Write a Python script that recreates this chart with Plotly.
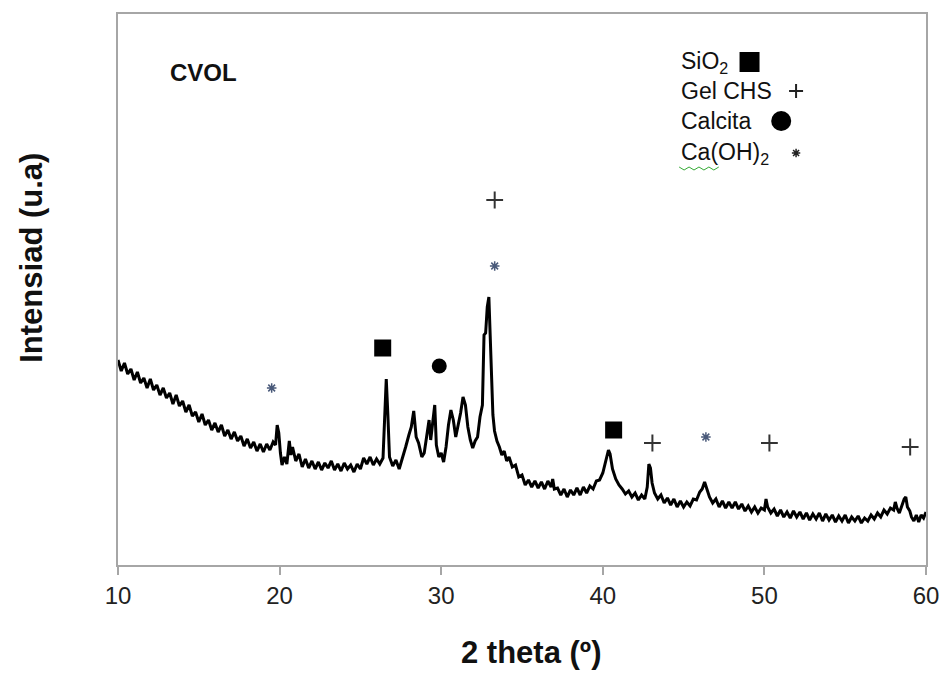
import plotly.graph_objects as go

# ---- data (2theta in degrees, intensity in arbitrary units) ----
two_theta = [
    10.0, 10.2, 10.4, 10.6, 10.8, 11.0, 11.2, 11.4, 11.6, 11.8,
    12.0, 12.2, 12.4, 12.6, 12.8, 13.0, 13.2, 13.4, 13.6, 13.8,
    14.0, 14.2, 14.4, 14.6, 14.8, 15.0, 15.2, 15.4, 15.6, 15.8,
    16.0, 16.2, 16.4, 16.6, 16.8, 17.0, 17.2, 17.4, 17.6, 17.8,
    18.0, 18.2, 18.4, 18.6, 18.8, 19.0, 19.2, 19.4, 19.6, 19.75,
    19.85, 19.95, 20.05, 20.15, 20.3, 20.45, 20.6, 20.7, 20.8, 21.0,
    21.2, 21.4, 21.6, 21.8, 22.0, 22.2, 22.4, 22.6, 22.8, 23.0,
    23.2, 23.4, 23.6, 23.8, 24.0, 24.2, 24.4, 24.6, 24.8, 25.0,
    25.2, 25.4, 25.6, 25.8, 26.0, 26.2, 26.4, 26.5, 26.6, 26.7,
    26.8, 27.0, 27.2, 27.4, 27.6, 27.8, 28.0, 28.15, 28.3, 28.45,
    28.6, 28.8, 28.95, 29.1, 29.25, 29.35, 29.5, 29.6, 29.7, 29.85,
    30.0, 30.15, 30.3, 30.45, 30.6, 30.75, 30.9, 31.05, 31.2, 31.35,
    31.5, 31.65, 31.8, 31.95, 32.1, 32.25, 32.4, 32.55, 32.65, 32.75,
    32.85, 32.95, 33.05, 33.1, 33.2, 33.3, 33.45, 33.6, 33.75, 33.9,
    34.05, 34.2, 34.4, 34.6, 34.8, 35.0, 35.2, 35.4, 35.6, 35.8,
    36.0, 36.2, 36.4, 36.6, 36.8, 36.9, 37.0, 37.2, 37.4, 37.6,
    37.8, 38.0, 38.2, 38.4, 38.6, 38.8, 39.0, 39.2, 39.4, 39.6,
    39.8, 40.0, 40.2, 40.35, 40.45, 40.6, 40.8, 41.0, 41.2, 41.4,
    41.6, 41.8, 42.0, 42.2, 42.4, 42.6, 42.75, 42.85, 42.95, 43.05,
    43.2, 43.4, 43.6, 43.8, 44.0, 44.2, 44.4, 44.6, 44.8, 45.0,
    45.2, 45.4, 45.6, 45.8, 46.0, 46.15, 46.3, 46.45, 46.6, 46.8,
    47.0, 47.2, 47.4, 47.6, 47.8, 48.0, 48.2, 48.4, 48.6, 48.8,
    49.0, 49.2, 49.4, 49.6, 49.8, 50.0, 50.1, 50.2, 50.4, 50.6,
    50.8, 51.0, 51.2, 51.4, 51.6, 51.8, 52.0, 52.2, 52.4, 52.6,
    52.8, 53.0, 53.2, 53.4, 53.6, 53.8, 54.0, 54.2, 54.4, 54.6,
    54.8, 55.0, 55.2, 55.4, 55.6, 55.8, 56.0, 56.2, 56.4, 56.6,
    56.8, 57.0, 57.2, 57.4, 57.6, 57.8, 58.0, 58.1, 58.2, 58.35,
    58.5, 58.65, 58.75, 58.85, 59.0, 59.1, 59.25, 59.4, 59.55, 59.7,
    59.85, 60.0,
]
intensity = [
    205, 194, 202, 191, 196, 185, 193, 182, 187, 177,
    186, 175, 180, 170, 177, 167, 172, 161, 170, 159,
    164, 153, 160, 149, 153, 143, 151, 140, 145, 135,
    142, 133, 140, 129, 135, 126, 133, 124, 129, 119,
    126, 117, 123, 114, 121, 113, 121, 115, 123, 120,
    140, 132, 112, 100, 108, 101, 124, 110, 118, 104,
    111, 98, 106, 97, 104, 96, 103, 95, 102, 97,
    104, 95, 101, 94, 102, 96, 100, 93, 101, 96,
    107, 101, 108, 100, 106, 101, 107, 140, 186, 150,
    108, 99, 105, 96, 106, 118, 130, 138, 154, 128,
    122, 108, 112, 130, 145, 125, 150, 160, 120, 108,
    112, 103, 118, 140, 155, 145, 128, 140, 152, 168,
    160, 138, 125, 117, 124, 128, 148, 160, 230, 232,
    258, 268, 210, 185, 150, 134, 124, 118, 110, 114,
    104, 108, 98, 100, 88, 90, 80, 85, 78, 84,
    77, 83, 76, 84, 78, 86, 76, 77, 70, 76,
    68, 75, 70, 77, 70, 78, 72, 79, 76, 84,
    85, 92, 106, 115, 111, 96, 86, 80, 76, 71,
    74, 68, 72, 65, 70, 66, 78, 101, 97, 82,
    72, 66, 70, 62, 67, 60, 66, 58, 64, 58,
    63, 59, 66, 65, 73, 76, 83, 75, 68, 62,
    66, 58, 64, 57, 63, 57, 63, 56, 61, 54,
    59, 53, 58, 52, 57, 55, 66, 58, 52, 56,
    49, 55, 48, 53, 47, 54, 48, 53, 46, 52,
    45, 51, 46, 52, 44, 51, 45, 50, 43, 49,
    44, 50, 42, 48, 44, 49, 42, 47, 44, 50,
    46, 52, 48, 55, 51, 57, 55, 63, 57, 52,
    60, 66, 68, 58, 54, 48, 44, 50, 43, 50,
    47, 53,
]

# phase marks placed on the pattern (2theta, height in u.a.)
sio2_x = [26.38, 40.67]
sio2_y = [217, 135]
gel_x = [33.31, 43.07, 50.31, 59.02]
gel_y = [365, 122, 122, 118]
calcita_x = [29.88]
calcita_y = [199]
caoh2_x = [19.51, 33.31, 46.38]
caoh2_y = [177, 299, 128]

x_ticks = [10, 20, 30, 40, 50, 60]

FONT = "Liberation Sans, Arial, sans-serif"

fig = go.Figure()
fig.add_trace(go.Scatter(x=two_theta, y=intensity, mode="lines",
                         line=dict(color="black", width=3), hoverinfo="skip"))

fig.add_trace(go.Scatter(x=sio2_x, y=sio2_y, mode="markers",
                         marker=dict(symbol="square", size=17, color="black")))
fig.add_trace(go.Scatter(x=calcita_x, y=calcita_y, mode="markers",
                         marker=dict(symbol="circle", size=15, color="black")))
fig.add_trace(go.Scatter(x=gel_x, y=gel_y, mode="markers",
                         marker=dict(symbol="cross-thin", size=12, color="#333",
                                     line=dict(color="#333", width=2))))
fig.add_trace(go.Scatter(x=caoh2_x, y=caoh2_y, mode="markers",
                         marker=dict(symbol="asterisk-open", size=8, color="#4a5a7a",
                                     line=dict(color="#4a5a7a", width=1.5))))

# legend block symbols (data coords) next to annotation texts
fig.add_trace(go.Scatter(x=[49.08], y=[503], mode="markers",
                         marker=dict(symbol="square", size=20, color="black")))
fig.add_trace(go.Scatter(x=[51.04], y=[444], mode="markers",
                         marker=dict(symbol="circle", size=20, color="black")))
fig.add_trace(go.Scatter(x=[51.96], y=[474], mode="markers",
                         marker=dict(symbol="cross-thin", size=10, color="#222",
                                     line=dict(color="#222", width=2))))
fig.add_trace(go.Scatter(x=[51.96], y=[412], mode="markers",
                         marker=dict(symbol="asterisk-open", size=7, color="#222",
                                     line=dict(color="#222", width=1.5))))

W, H = 951, 688
L, R, T, B = 118, 18, 14, 123


def px(x):
    return (x - L) / (W - L - R)


def py(y):
    return (H - B - y) / (H - T - B)


annos = [
    dict(text="<b>CVOL</b>", x=px(168), y=py(72), xanchor="left", yanchor="middle",
         font=dict(size=24, color="#111", family=FONT)),
    dict(text="SiO<sub>2</sub>", x=px(684), y=py(62), xanchor="left", yanchor="middle",
         font=dict(size=23, color="#111", family=FONT)),
    dict(text="Gel CHS", x=px(684), y=py(91), xanchor="left", yanchor="middle",
         font=dict(size=23, color="#111", family=FONT)),
    dict(text="Calcita", x=px(684), y=py(121), xanchor="left", yanchor="middle",
         font=dict(size=23, color="#111", family=FONT)),
    dict(text="Ca(OH)<sub>2</sub>", x=px(684), y=py(153), xanchor="left", yanchor="middle",
         font=dict(size=23, color="#111", family=FONT)),
    dict(text="<b>2 theta (º)</b>", x=px(535), y=py(652), xanchor="center", yanchor="middle",
         font=dict(size=31, color="#111", family=FONT)),
    dict(text="<b>Intensiad (u.a)</b>", x=px(30), y=py(258), xanchor="center", yanchor="middle",
         textangle=-90, font=dict(size=31, color="#111", family=FONT)),
]
for a in annos:
    a.update(xref="paper", yref="paper", showarrow=False)

wave = [(684, 167), (689, 170), (694, 167), (699, 170), (704, 167),
        (709, 170), (714, 167), (719, 170), (724, 167)]
wave_path = "M " + " L ".join("{} {}".format(px(a), py(b)) for a, b in wave)

fig.update_layout(
    width=W, height=H,
    margin=dict(l=L, r=R, t=T, b=B),
    paper_bgcolor="white", plot_bgcolor="white",
    showlegend=False,
    annotations=annos,
    shapes=[dict(type="path", xref="paper", yref="paper", path=wave_path,
                 line=dict(color="#3a3", width=1))],
    xaxis=dict(range=[10, 60], tickvals=x_ticks, ticktext=[str(v) for v in x_ticks],
               showgrid=False, zeroline=False, showline=True, mirror=True,
               linecolor="#a6a6a6", linewidth=2, ticks="outside", ticklen=8,
               tickcolor="#a6a6a6", tickwidth=2,
               tickfont=dict(size=24, color="#222", family=FONT)),
    yaxis=dict(range=[0, 551], showgrid=False, zeroline=False, showline=True,
               mirror=True, linecolor="#a6a6a6", linewidth=2, showticklabels=False,
               ticks=""),
)

fig.write_html("out.html")
